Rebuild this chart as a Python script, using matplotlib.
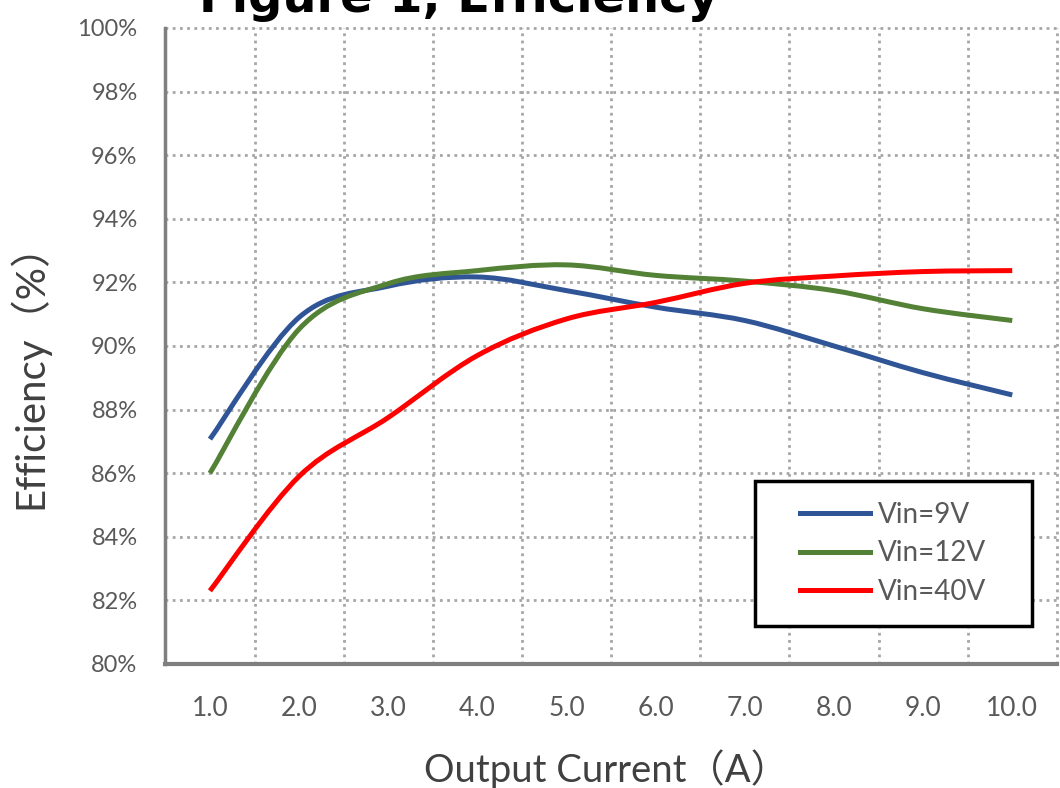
import matplotlib
matplotlib.use("Agg")
import matplotlib.pyplot as plt
from matplotlib.path import Path
from matplotlib.patches import PathPatch, Rectangle
from matplotlib.lines import Line2D
import numpy as np

# ---- data ----
current = [1, 2, 3, 4, 5, 6, 7, 8, 9, 10]
tick_labels = ["1.0", "2.0", "3.0", "4.0", "5.0", "6.0", "7.0", "8.0", "9.0", "10.0"]
eff_9v = [87.07, 90.9, 91.88, 92.17, 91.74, 91.22, 90.8, 90.0, 89.16, 88.46]
eff_12v = [86.0, 90.53, 91.96, 92.37, 92.55, 92.22, 92.04, 91.74, 91.17, 90.8]
eff_40v = [82.3, 85.9, 87.75, 89.7, 90.85, 91.37, 91.97, 92.2, 92.34, 92.37]
series_labels = ["Vin=9V", "Vin=12V", "Vin=40V"]
y_ticks = list(range(80, 101, 2))
y_tick_labels = [f"{v}%" for v in y_ticks]

colors = ["#2F5597", "#538135", "#FF0000"]

FONT = ["Lato", "Noto Sans CJK SC", "DejaVu Sans"]
plt.rcParams["font.family"] = FONT

fig = plt.figure(figsize=(10.60, 7.88), dpi=100)
ax = fig.add_axes([0.156, 0.1574, 0.841, 0.8071])


def smooth_path(xs, ys):
    """Excel-style smoothed line: cubic Bezier through the data points."""
    pts = np.column_stack([xs, ys]).astype(float)
    n = len(pts)
    verts = [pts[0]]
    codes = [Path.MOVETO]
    for i in range(n - 1):
        p_prev = pts[i - 1] if i > 0 else pts[i]
        p_next2 = pts[i + 2] if i + 2 < n else pts[i + 1]
        c1 = pts[i] + (pts[i + 1] - p_prev) / 6.0
        c2 = pts[i + 1] - (p_next2 - pts[i]) / 6.0
        verts += [c1, c2, pts[i + 1]]
        codes += [Path.CURVE4] * 3
    return Path(verts, codes)


for ys, c in zip([eff_9v, eff_12v, eff_40v], colors):
    patch = PathPatch(smooth_path(current, ys), facecolor="none", edgecolor=c,
                      lw=3.6, capstyle="butt", joinstyle="round", zorder=3)
    ax.add_patch(patch)

ax.set_xlim(0.5, 10.5)
ax.set_ylim(80, 100)

ax.set_xticks(current)
ax.set_xticklabels(tick_labels)
ax.set_xticks([x + 0.5 for x in current], minor=True)
ax.set_yticks(y_ticks)
ax.set_yticklabels(y_tick_labels)

grid_kw = dict(color="#A6A6A6", lw=2.0, linestyle=(0, (1.0, 1.6)))
ax.grid(False)
ax.xaxis.grid(True, which="minor", **grid_kw)
ax.yaxis.grid(True, which="major", **grid_kw)
for tk in ax.xaxis.get_minor_ticks() + ax.yaxis.get_major_ticks():
    tk.gridline.set_clip_on(False)

ax.tick_params(axis="both", which="both", length=0)
ax.tick_params(axis="x", pad=23, labelsize=19, labelcolor="#595959")
ax.tick_params(axis="y", pad=20, labelsize=17, labelcolor="#595959")

for s in ["top", "right"]:
    ax.spines[s].set_visible(False)
ax.spines["left"].set_color("#7F7F7F")
ax.spines["left"].set_linewidth(2.5)
ax.spines["bottom"].set_color("#7F7F7F")
ax.spines["bottom"].set_linewidth(3.0)

ax.set_xlabel("Output Current（A）", fontsize=27.5, color="#404040", va="baseline")
ax.xaxis.set_label_coords(0.495, -0.186)
ax.set_ylabel("Efficiency（%）", fontsize=29, color="#404040", va="baseline")
ax.yaxis.set_label_coords(-0.138, 0.468)

# legend: entries centred inside a plain black box
box = Rectangle((0.661, 0.06), 0.311, 0.228, transform=ax.transAxes,
                facecolor="white", edgecolor="black", lw=2.5, zorder=5)
ax.add_patch(box)
handles = [Line2D([], [], color=c, lw=3.6) for c in colors]
leg = ax.legend(handles, series_labels, loc="center",
                bbox_to_anchor=(0.661 + 0.311 / 2, 0.06 + 0.228 / 2),
                fontsize=20, frameon=False, handlelength=2.5,
                handletextpad=0.3, labelspacing=0.45, borderpad=0,
                borderaxespad=0)
leg.set_zorder(6)
for t in leg.get_texts():
    t.set_color("#595959")

fig.text(0.433, 0.9848, "Figure 1, Efficiency", ha="center", va="baseline",
         fontsize=34.5, fontweight="bold", color="black",
         family=["DejaVu Sans"])

fig.savefig("out.png", dpi=100)
